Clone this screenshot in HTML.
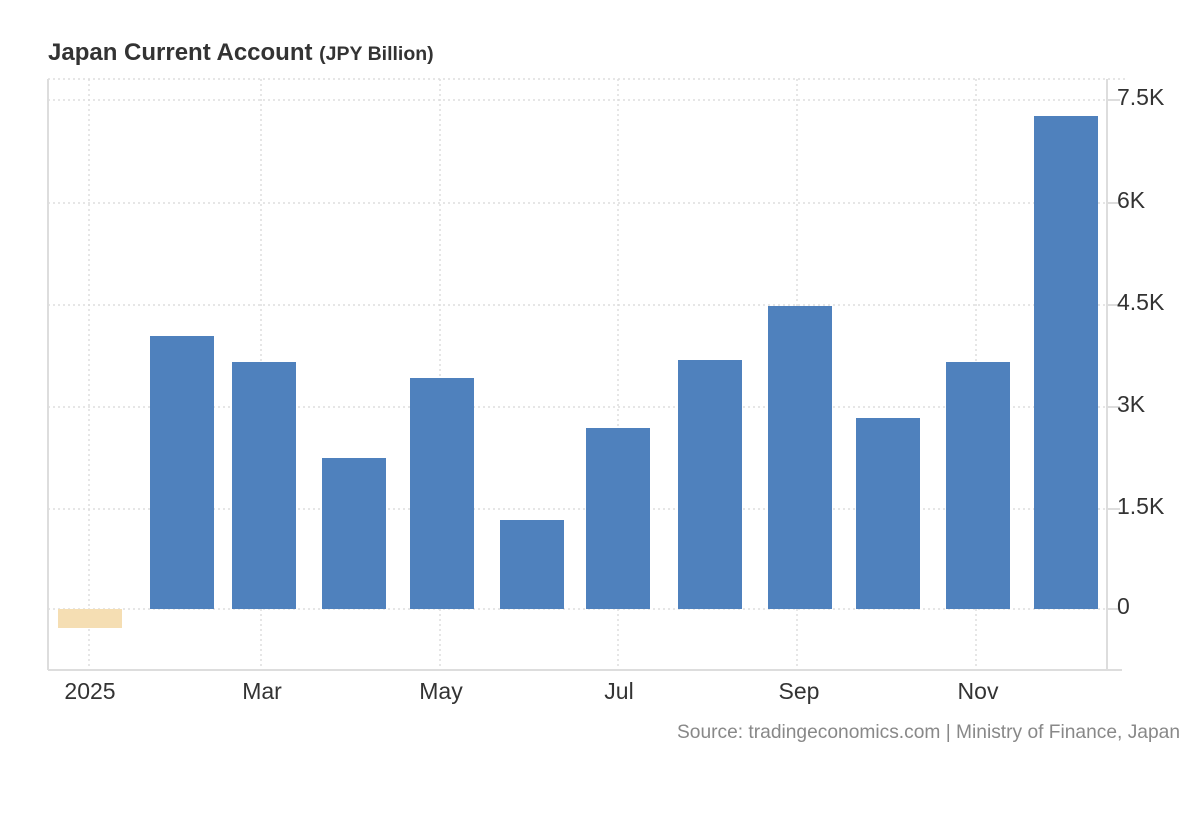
<!DOCTYPE html>
<html><head><meta charset="utf-8"><style>
body{margin:0;background:#fff;}
svg text{font-family:"Liberation Sans",Arial,sans-serif;}
</style></head><body>
<svg width="1200" height="820" xmlns="http://www.w3.org/2000/svg">
<rect width="1200" height="820" fill="#fff"/>
<text x="48" y="60" font-size="24" font-weight="bold" fill="#333">Japan Current Account <tspan font-size="19.5">(JPY Billion)</tspan></text>
<g stroke="#ddd" stroke-width="1.5" stroke-dasharray="2,3" fill="none">
<line x1="48" y1="79" x2="1125" y2="79"/>
<line x1="48" y1="100" x2="1107" y2="100"/>
<line x1="48" y1="203" x2="1107" y2="203"/>
<line x1="48" y1="305" x2="1107" y2="305"/>
<line x1="48" y1="407" x2="1107" y2="407"/>
<line x1="48" y1="509" x2="1107" y2="509"/>
<line x1="48" y1="609" x2="1107" y2="609"/>
<line x1="89" y1="79" x2="89" y2="670"/>
<line x1="261" y1="79" x2="261" y2="670"/>
<line x1="440" y1="79" x2="440" y2="670"/>
<line x1="618" y1="79" x2="618" y2="670"/>
<line x1="797" y1="79" x2="797" y2="670"/>
<line x1="976" y1="79" x2="976" y2="670"/>
</g>
<g stroke="#ddd" stroke-width="2">
<line x1="48" y1="79" x2="48" y2="670"/>
<line x1="1107" y1="79" x2="1107" y2="670"/>
<line x1="48" y1="670" x2="1122" y2="670"/>
<line x1="1107" y1="100" x2="1120" y2="100"/>
<line x1="1107" y1="203" x2="1120" y2="203"/>
<line x1="1107" y1="305" x2="1120" y2="305"/>
<line x1="1107" y1="407" x2="1120" y2="407"/>
<line x1="1107" y1="509" x2="1120" y2="509"/>
<line x1="1107" y1="609" x2="1120" y2="609"/>
</g>
<rect x="58" y="609" width="64" height="19" fill="#f5deb3"/>
<g fill="#4f81bd">
<rect x="150" y="336" width="64" height="273"/>
<rect x="232" y="362" width="64" height="247"/>
<rect x="322" y="458" width="64" height="151"/>
<rect x="410" y="378" width="64" height="231"/>
<rect x="500" y="520" width="64" height="89"/>
<rect x="586" y="428" width="64" height="181"/>
<rect x="678" y="360" width="64" height="249"/>
<rect x="768" y="306" width="64" height="303"/>
<rect x="856" y="418" width="64" height="191"/>
<rect x="946" y="362" width="64" height="247"/>
<rect x="1034" y="116" width="64" height="493"/>
</g>
<g font-size="23" fill="#333">
<text x="1117" y="105">7.5K</text>
<text x="1117" y="208">6K</text>
<text x="1117" y="310">4.5K</text>
<text x="1117" y="412">3K</text>
<text x="1117" y="514">1.5K</text>
<text x="1117" y="614">0</text>
</g>
<g font-size="23" fill="#333" text-anchor="middle">
<text x="90" y="699">2025</text>
<text x="262" y="699">Mar</text>
<text x="441" y="699">May</text>
<text x="619" y="699">Jul</text>
<text x="799" y="699">Sep</text>
<text x="978" y="699">Nov</text>
</g>
<text x="1180" y="738" font-size="19.2" fill="#888" text-anchor="end">Source: tradingeconomics.com | Ministry of Finance, Japan</text>
</svg>
</body></html>
